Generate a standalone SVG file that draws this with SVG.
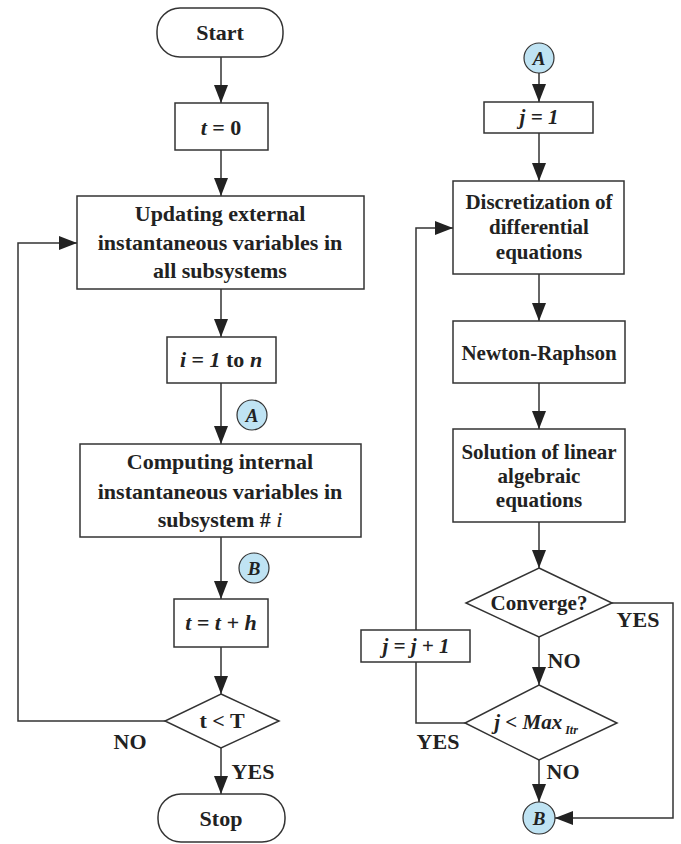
<svg xmlns="http://www.w3.org/2000/svg" width="681" height="844" viewBox="0 0 681 844">
<style>
.box{fill:#fff;stroke:#333;stroke-width:1.5}
.con{fill:none;stroke:#333;stroke-width:1.5}
.t{font-family:"Liberation Serif","Times New Roman",serif;font-weight:bold;fill:#222;text-anchor:middle}
.l{font-size:22px}
.r{font-size:21px}
.it{font-style:italic}
.circ{fill:#bfe3f3;stroke:#333;stroke-width:1.2}
</style>
<defs>
<marker id="ah" markerUnits="userSpaceOnUse" markerWidth="18" markerHeight="14" refX="18" refY="7" orient="auto">
<path d="M0,0 L18,7 L0,14 z" fill="#222"/>
</marker>
</defs>
<rect width="681" height="844" fill="#fff"/>
<g id="connectors">
<line class="con" x1="221" y1="57" x2="221" y2="103" marker-end="url(#ah)"/>
<line class="con" x1="221" y1="150" x2="221" y2="196" marker-end="url(#ah)"/>
<line class="con" x1="221" y1="289" x2="221" y2="337" marker-end="url(#ah)"/>
<line class="con" x1="221" y1="383" x2="221" y2="444" marker-end="url(#ah)"/>
<line class="con" x1="221" y1="537" x2="221" y2="599" marker-end="url(#ah)"/>
<line class="con" x1="221" y1="647" x2="221" y2="694" marker-end="url(#ah)"/>
<line class="con" x1="221" y1="748" x2="221" y2="794" marker-end="url(#ah)"/>
<polyline class="con" points="165,721 18,721 18,243 77,243" marker-end="url(#ah)"/>
<line class="con" x1="539" y1="73" x2="539" y2="102" marker-end="url(#ah)"/>
<line class="con" x1="539" y1="133" x2="539" y2="181" marker-end="url(#ah)"/>
<line class="con" x1="539" y1="274" x2="539" y2="321" marker-end="url(#ah)"/>
<line class="con" x1="539" y1="383" x2="539" y2="429" marker-end="url(#ah)"/>
<line class="con" x1="539" y1="522" x2="539" y2="568" marker-end="url(#ah)"/>
<line class="con" x1="539" y1="637" x2="539" y2="685" marker-end="url(#ah)"/>
<line class="con" x1="539" y1="760" x2="539" y2="802" marker-end="url(#ah)"/>
<polyline class="con" points="612,603 673,603 673,818 555,818" marker-end="url(#ah)"/>
<polyline class="con" points="465,723 416,723 416,662"/>
<polyline class="con" points="416,630 416,228 453,228" marker-end="url(#ah)"/>
<text class="t l" x="130" y="749">NO</text>
<text class="t l" x="253" y="779">YES</text>
<text class="t l" x="638" y="627">YES</text>
<text class="t l" x="564" y="668">NO</text>
<text class="t l" x="438" y="749">YES</text>
<text class="t l" x="563" y="779">NO</text>
</g>
<g id="start">
<rect class="box" x="157" y="8" width="126" height="49" rx="23"/>
<text class="t l" x="220" y="40">Start</text>
</g>
<g id="t0">
<rect class="box" x="175" y="103" width="93" height="47"/>
<text class="t l" x="221" y="135"><tspan class="it">t</tspan> = 0</text>
</g>
<g id="updating">
<rect class="box" x="77" y="196" width="287" height="93"/>
<text class="t l" x="220" y="221">Updating external</text>
<text class="t l" x="220" y="250">instantaneous variables in</text>
<text class="t l" x="220" y="278">all subsystems</text>
</g>
<g id="iloop">
<rect class="box" x="167" y="337" width="109" height="46"/>
<text class="t l" x="221" y="367"><tspan class="it">i</tspan> = <tspan class="it">1</tspan>  to  <tspan class="it">n</tspan></text>
</g>
<g id="connA1">
<circle class="circ" cx="252" cy="415" r="15"/>
<text class="t it" font-size="19" x="252" y="422">A</text>
</g>
<g id="computing">
<rect class="box" x="80" y="444" width="281" height="93"/>
<text class="t l" x="220" y="469">Computing internal</text>
<text class="t l" x="220" y="499">instantaneous variables in</text>
<text class="t l" x="220" y="527">subsystem #  <tspan class="it" font-weight="normal">i</tspan></text>
</g>
<g id="connB1">
<circle class="circ" cx="254" cy="568" r="15"/>
<text class="t it" font-size="19" x="254" y="575">B</text>
</g>
<g id="tth">
<rect class="box" x="174" y="599" width="94" height="48"/>
<text class="t l it" x="221" y="630">t = t + h</text>
</g>
<g id="tltT">
<polygon class="box" points="221,694 279,721 221,748 165,721"/>
<text class="t l" x="222" y="728">t &lt; T</text>
</g>
<g id="stop">
<rect class="box" x="158" y="794" width="127" height="48" rx="23"/>
<text class="t l" x="221" y="826">Stop</text>
</g>
<g id="connA2">
<circle class="circ" cx="539" cy="58" r="15"/>
<text class="t it" font-size="19" x="539" y="65">A</text>
</g>
<g id="j1">
<rect class="box" x="484" y="102" width="109" height="31"/>
<text class="t r it" x="539" y="124">j = 1</text>
</g>
<g id="discretization">
<rect class="box" x="453" y="181" width="171" height="93"/>
<text class="t r" x="539" y="209">Discretization of</text>
<text class="t r" x="539" y="234">differential</text>
<text class="t r" x="539" y="259">equations</text>
</g>
<g id="newton">
<rect class="box" x="453" y="321" width="172" height="62"/>
<text class="t r" x="539" y="360">Newton-Raphson</text>
</g>
<g id="solution">
<rect class="box" x="453" y="429" width="172" height="93"/>
<text class="t r" x="539" y="459">Solution of linear</text>
<text class="t r" x="539" y="483">algebraic</text>
<text class="t r" x="539" y="507">equations</text>
</g>
<g id="converge">
<polygon class="box" points="539,568 612,603 539,637 466,603"/>
<text class="t r" x="539" y="610">Converge?</text>
</g>
<g id="jinc">
<rect class="box" x="361" y="630" width="109" height="32"/>
<text class="t r it" x="416" y="653">j = j + 1</text>
</g>
<g id="jmax">
<polygon class="box" points="539,685 617,723 539,760 465,723"/>
<text class="t r it" x="536" y="729">j &lt; Max<tspan font-size="12" dy="5"> Itr</tspan></text>
</g>
<g id="connB2">
<circle class="circ" cx="539" cy="818" r="16"/>
<text class="t it" font-size="19" x="539" y="825">B</text>
</g>
</svg>
